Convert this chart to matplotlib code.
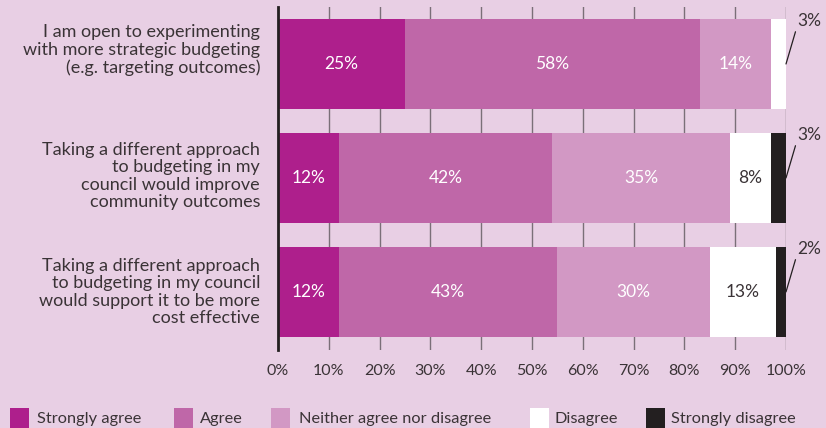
import matplotlib
matplotlib.use("Agg")
import matplotlib.pyplot as plt
from matplotlib.patches import Rectangle
import numpy as np

plt.rcParams['font.family'] = ['Lato', 'DejaVu Sans']

categories = [
    "I am open to experimenting\nwith more strategic budgeting\n(e.g. targeting outcomes)",
    "Taking a different approach\nto budgeting in my\ncouncil would improve\ncommunity outcomes",
    "Taking a different approach\nto budgeting in my council\nwould support it to be more\ncost effective",
]
series_names = ["Strongly agree", "Agree", "Neither agree nor disagree", "Disagree", "Strongly disagree"]
strongly_agree = [25, 12, 12]
agree = [58, 42, 43]
neither = [14, 35, 30]
disagree = [3, 8, 13]
strongly_disagree = [0, 3, 2]
xtick_values = [0, 10, 20, 30, 40, 50, 60, 70, 80, 90, 100]
xtick_labels = ["0%", "10%", "20%", "30%", "40%", "50%", "60%", "70%", "80%", "90%", "100%"]

series = [strongly_agree, agree, neither, disagree, strongly_disagree]
colors = ["#AE1F8C", "#BF67A8", "#D298C4", "#FFFFFF", "#231F20"]
label_colors = ["white", "white", "white", "#3a3336", "white"]
BG = "#E8CFE4"
TXT = "#3a3336"

W, H = 826, 428
fig = plt.figure(figsize=(W / 100, H / 100), dpi=100, facecolor=BG)
ax = fig.add_axes([278 / W, (H - 350) / H, (786 - 278) / W, (350 - 7) / H])
ax.set_facecolor(BG)

y = np.arange(len(categories))
left = np.zeros(len(categories))
for vals, col, lc in zip(series, colors, label_colors):
    vals = np.array(vals, dtype=float)
    ax.barh(y, vals, left=left, height=0.79, color=col, zorder=3, linewidth=0)
    for i, v in enumerate(vals):
        if v >= 5:
            ax.text(left[i] + v / 2, y[i], f"{int(v)}%", ha="center", va="center",
                    color=lc, fontsize=12.5, zorder=4)
    left += vals

# small outside labels for last segment
for i in range(len(categories)):
    if strongly_disagree[i] > 0:
        v = strongly_disagree[i]
    else:
        v = disagree[i]
    ax.annotate(f"{v}%", xy=(100, y[i]), xycoords="data",
                xytext=(11, 35), textcoords="offset pixels",
                ha="left", va="bottom", fontsize=12.5, color=TXT,
                annotation_clip=False,
                arrowprops=dict(arrowstyle="-", color="#231F20", lw=0.9,
                                shrinkA=0, shrinkB=0, relpos=(0, 0.15)))

# category labels
label_dy = [14, 2, 0]
for i, cat in enumerate(categories):
    ax.annotate(cat, xy=(0, y[i]), xycoords=("axes fraction", "data"),
                xytext=(-18, label_dy[i]), textcoords="offset pixels",
                ha="right", va="center", fontsize=13, color=TXT,
                linespacing=1.1, annotation_clip=False)

ax.set_xlim(0, 100)
ax.set_ylim(2.51, -0.5)
ax.set_xticks(xtick_values)
ax.set_xticklabels(xtick_labels, fontsize=11.5, color=TXT)
ax.tick_params(axis="x", length=0, pad=10)
ax.set_yticks([])
ax.grid(axis="x", color="#7a6f78", lw=1.0, zorder=1)
for s in ["top", "right", "bottom"]:
    ax.spines[s].set_visible(False)
ax.spines["left"].set_color("#231F20")
ax.spines["left"].set_linewidth(2)
ax.spines["left"].set_zorder(5)

# legend
sq_x = [10, 174, 271, 530, 646]
tx_x = [37, 200, 299, 555, 671]
for name, col, sx, tx in zip(series_names, colors, sq_x, tx_x):
    fig.add_artist(Rectangle((sx / W, 0), 19 / W, 20 / H, transform=fig.transFigure,
                             facecolor=col, edgecolor="none"))
    fig.text(tx / W, (H - 419) / H, name, ha="left", va="center", fontsize=11.8, color=TXT)

fig.savefig("out.png", dpi=100, facecolor=BG)
